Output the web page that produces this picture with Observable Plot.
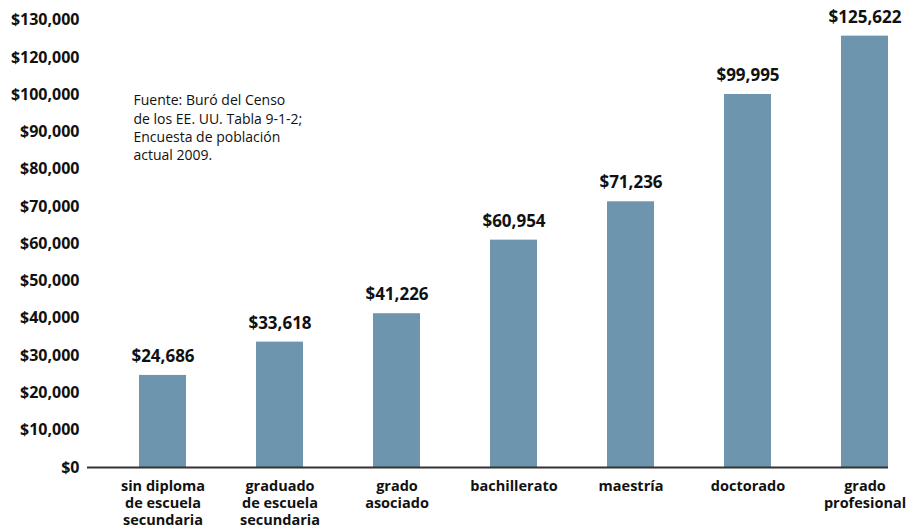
<!DOCTYPE html>
<html><head><meta charset="utf-8">
<script src="https://cdn.jsdelivr.net/npm/d3@7"></script>
<script src="https://cdn.jsdelivr.net/npm/@observablehq/plot@0.6"></script>
<style>
body{margin:0;background:#fff}
#chart svg{display:block;font-family:"Open Sans",sans-serif}
</style>
</head><body><div id="chart"></div>
<script>
const categories = [
  "sin diploma\nde escuela\nsecundaria",
  "graduado\nde escuela\nsecundaria",
  "grado\nasociado",
  "bachillerato",
  "maestría",
  "doctorado",
  "grado\nprofesional"
];
const values = [24686, 33618, 41226, 60954, 71236, 99995, 125622];
const yTicks = [0, 10000, 20000, 30000, 40000, 50000, 60000, 70000, 80000, 90000, 100000, 120000, 130000];
const noteLines = ["Fuente: Buró del Censo", "de los EE. UU. Tabla 9-1-2;", "Encuesta de población", "actual 2009."];

const data = categories.map((c, i) => ({category: c, value: values[i]}));
const fmt = d3.format("$,");

const chart = Plot.plot({
  width: 913,
  height: 529,
  marginLeft: 87,
  marginRight: 25,
  marginTop: 0,
  marginBottom: 62,
  x: {domain: categories, paddingInner: 0.6, paddingOuter: 0.222, align: 1, axis: null, label: null},
  y: {type: "linear", domain: [0, 100000, 120000, 130000], range: [467, 94, 57, 19], axis: null, label: null},
  marks: [
    Plot.barY(data, {x: "category", y: "value", fill: "#6d95ae"}),
    Plot.ruleY([0], {stroke: "#333", strokeWidth: 2}),
    Plot.axisY({ticks: yTicks, tickFormat: fmt, label: null, tickSize: 0, tickPadding: 8, fontSize: 16, fontWeight: 700, fill: "#111", letterSpacing: -0.5}),
    Plot.axisX({label: null, tickSize: 0, tickPadding: 11, fontSize: 14.5, fontWeight: 700, fill: "#111", lineHeight: 1.18, letterSpacing: -0.5}),
    Plot.text(data, {x: "category", y: "value", text: d => fmt(d.value), dy: -19, fontSize: 17, fontWeight: 700, fill: "#111", letterSpacing: -0.4}),
    Plot.text([noteLines.join("\n")], {frameAnchor: "top-left", dx: 46, dy: 92, textAnchor: "start", lineAnchor: "top", lineHeight: 1.3, fontSize: 14, fill: "#111", letterSpacing: -0.2})
  ]
});
document.getElementById("chart").appendChild(chart);
</script>
</body></html>
